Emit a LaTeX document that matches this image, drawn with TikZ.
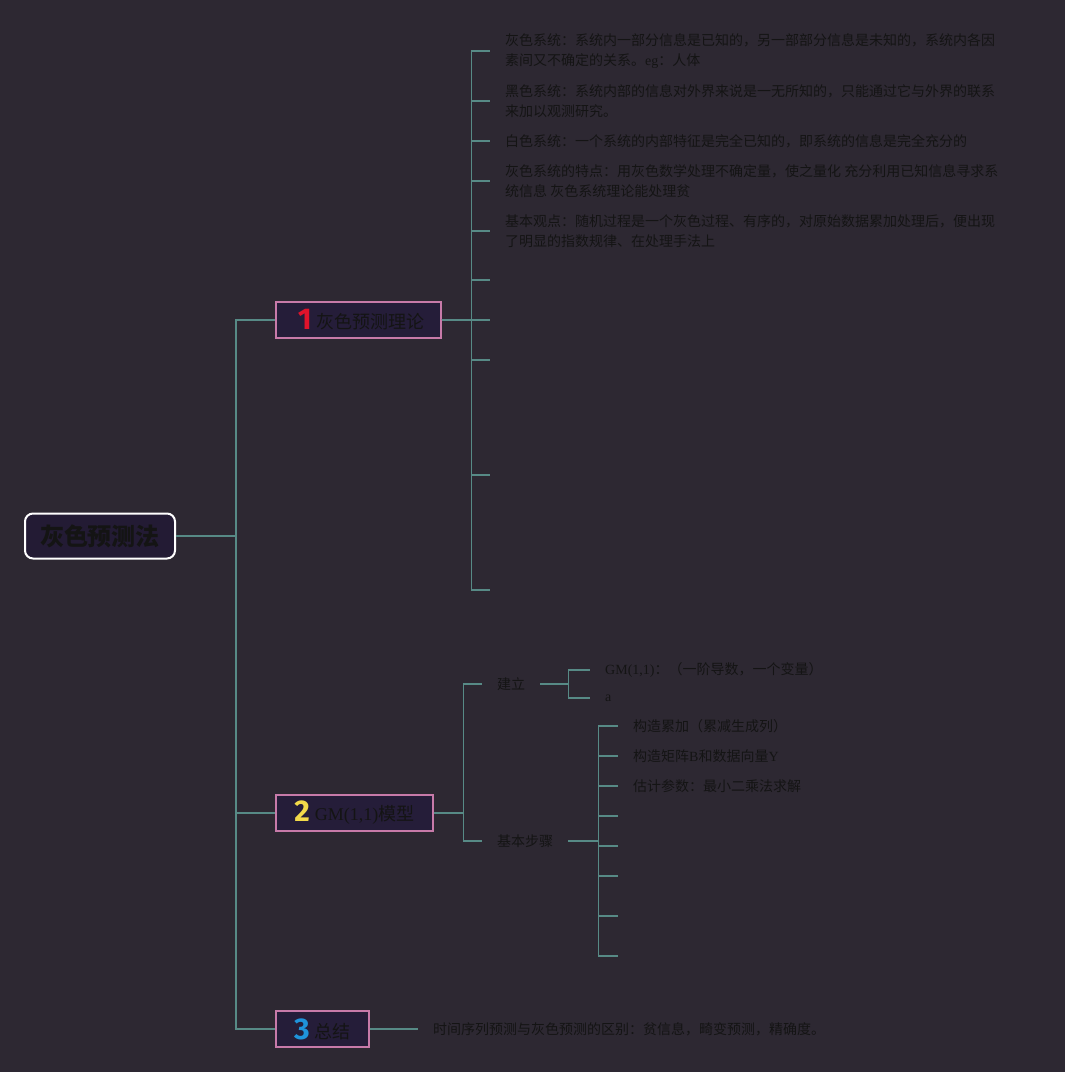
\documentclass[tikz,border=0pt]{standalone}
\usepackage{fontspec}
\setmainfont{Noto Sans CJK SC}
\newfontfamily\lat{Liberation Serif}
\newfontfamily\numfont{Fira Sans}
\definecolor{bg}{HTML}{2D2832}
\definecolor{ink}{HTML}{141414}
\definecolor{ln}{HTML}{578A86}
\definecolor{pinkb}{HTML}{C77AA9}
\definecolor{topicfill}{HTML}{251D39}
\definecolor{rootfill}{HTML}{231B34}
\definecolor{nA}{HTML}{E0132B}
\definecolor{nB}{HTML}{F3DA4A}
\definecolor{nC}{HTML}{1F93DB}
\tikzset{
  rootbox/.style={draw=white, line width=2pt, rounded corners=8pt, fill=rootfill, text=ink,
    font=\fontsize{24}{28}\selectfont\bfseries, minimum width=150pt, minimum height=45pt, inner sep=0pt},
  topic/.style={draw=pinkb, line width=1.6pt, fill=topicfill, text=ink,
    font=\fontsize{18}{22}\selectfont, minimum height=36pt, inner sep=0pt, anchor=west},
  leaf/.style={text=ink, font=\fontsize{14}{20}\selectfont, align=left, inner xsep=15pt, inner ysep=0pt, anchor=west},
  conn/.style={draw=ln, line width=1.4pt}
}
\newcommand{\bignum}[2]{\raisebox{-1pt}{\numfont\bfseries\fontsize{30}{30}\selectfont\color{#1}#2}\hspace{5pt}}
\begin{document}
\begin{tikzpicture}[x=1pt,y=-1pt]
\fill[bg] (0,0) rectangle (1065,1072);
\useasboundingbox (0,0) rectangle (1065,1072);

% root and topics
\node[rootbox] (root) at (100,536) {灰色预测法};
\node[topic, minimum width=165pt] (t1) at (275,320) {\hspace{6pt}\bignum{nA}{1}灰色预测理论};
\node[topic, minimum width=157pt] (t2) at (275,813) {\bignum{nB}{2}{\lat GM(1,1)}模型};
\node[topic, minimum width=93pt] (t3) at (275,1029) {\bignum{nC}{3}总结};

\draw[conn] (root.east) -- ++(60,0) |- (t1.west);
\draw[conn] (root.east) -- ++(60,0) |- (t2.west);
\draw[conn] (root.east) -- ++(60,0) |- (t3.west);

% topic 1 children
\node[leaf] (a1) at (490,51) {灰色系统：系统内一部分信息是已知的，另一部部分信息是未知的，系统内各因\\素间又不确定的关系。{\lat eg}：人体};
\node[leaf] (a2) at (490,101) {黑色系统：系统内部的信息对外界来说是一无所知的，只能通过它与外界的联系\\来加以观测研究。};
\node[leaf] (a3) at (490,141) {白色系统：一个系统的内部特征是完全已知的，即系统的信息是完全充分的};
\node[leaf] (a4) at (490,181) {灰色系统的特点：用灰色数学处理不确定量，使之量化 充分利用已知信息寻求系\\统信息 灰色系统理论能处理贫};
\node[leaf] (a5) at (490,231) {基本观点：随机过程是一个灰色过程、有序的，对原始数据累加处理后，便出现\\了明显的指数规律、在处理手法上};
\coordinate (a6) at (490,280);
\coordinate (a7) at (490,320);
\coordinate (a8) at (490,360);
\coordinate (a9) at (490,475);
\coordinate (a10) at (490,590);
\foreach \c in {a1,a2,a3,a4,a5} \draw[conn] (t1.east) -- ++(30,0) |- (\c.west);
\foreach \c in {a6,a7,a8,a9,a10} \draw[conn] (t1.east) -- ++(30,0) |- (\c);

% topic 2 children
\node[leaf] (b1) at (482,684) {建立};
\node[leaf] (b2) at (482,841) {基本步骤};
\draw[conn] (t2.east) -- ++(30,0) |- (b1.west);
\draw[conn] (t2.east) -- ++(30,0) |- (b2.west);

\node[leaf] (c1) at (590,670) {{\lat GM(1,1)}：（一阶导数，一个变量）};
\node[leaf] (c2) at (590,698) {{\lat a}};
\draw[conn] (b1.east) -- ++(28,0) |- (c1.west);
\draw[conn] (b1.east) -- ++(28,0) |- (c2.west);

\node[leaf] (d1) at (618,726) {构造累加（累减生成列）};
\node[leaf] (d2) at (618,756) {构造矩阵{\lat B}和数据向量{\lat Y}};
\node[leaf] (d3) at (618,786) {估计参数：最小二乘法求解};
\coordinate (d4) at (618,816);
\coordinate (d5) at (618,846);
\coordinate (d6) at (618,876);
\coordinate (d7) at (618,916);
\coordinate (d8) at (618,956);
\foreach \c in {d1,d2,d3} \draw[conn] (b2.east) -- ++(30,0) |- (\c.west);
\foreach \c in {d4,d5,d6,d7,d8} \draw[conn] (b2.east) -- ++(30,0) |- (\c);

% topic 3 child
\node[leaf] (e1) at (418,1029) {时间序列预测与灰色预测的区别：贫信息，畸变预测，精确度。};
\draw[conn] (t3.east) -- (e1.west);
\end{tikzpicture}
\end{document}
